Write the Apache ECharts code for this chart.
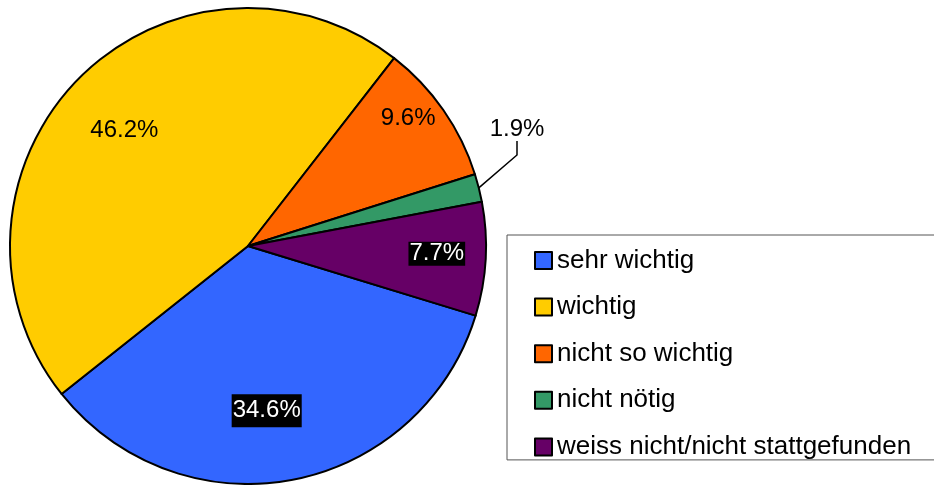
<!DOCTYPE html>
<html>
<head>
<meta charset="utf-8">
<script src="https://cdn.jsdelivr.net/npm/echarts@6/dist/echarts.min.js"></script>
<style>
  html, body { margin: 0; padding: 0; background: #fff; }
  #chart { width: 934px; height: 485px; }
</style>
</head>
<body>
<div id="chart"></div>
<script>
var categories = ['sehr wichtig', 'wichtig', 'nicht so wichtig', 'nicht nötig', 'weiss nicht/nicht stattgefunden'];
var shares = [34.6, 46.2, 9.6, 1.9, 7.7];
var colors = ['#3366FF', '#FFCC00', '#FF6600', '#339966', '#660066'];

// label tweaks per slice (offset from the default inside spot)
var labelOffsets = [[-4, 45], [-37, -30], [60, -58], [0, 0], [67, 1]];
var darkLabel = [true, false, false, false, true];

var FONT = '"Liberation Sans", Arial, Helvetica, sans-serif';

var chart = echarts.init(document.getElementById('chart'));

var data = categories.map(function (name, i) {
  var item = {
    name: name,
    value: shares[i],
    itemStyle: { color: colors[i] },
    label: { offset: labelOffsets[i] }
  };
  if (darkLabel[i]) {
    item.label.color = '#fff';
    item.label.backgroundColor = '#000';
    item.label.padding = i === 0 ? [6, 1, 5, 1] : [1, 1, 1, 1];
  }
  if (i === 3) {
    item.label = {
      position: 'outside',
      color: '#000'
    };
    item.labelLine = {
      show: true,
      length: 28,
      length2: 14,
      lineStyle: { color: '#000', width: 1.5 }
    };
  }
  return item;
});

chart.setOption({
  animation: false,
  legend: {
    orient: 'vertical',
    left: 507,
    top: 235,
    padding: [12.5, 80, 0, 27],
    borderColor: '#555',
    borderWidth: 1,
    itemWidth: 17,
    itemHeight: 17,
    itemGap: 20.6,
    icon: 'rect',
    selectedMode: false,
    itemStyle: { borderColor: '#000', borderWidth: 2 },
    textStyle: { fontFamily: FONT, fontSize: 26, lineHeight: 22, color: '#000' },
    data: categories
  },
  series: [{
    type: 'pie',
    center: [248, 246],
    radius: 238,
    startAngle: -17,
    clockwise: true,
    avoidLabelOverlap: false,
    label: {
      show: true,
      position: 'inside',
      fontFamily: FONT,
      fontSize: 24,
      lineHeight: 22,
      color: '#000',
      formatter: function (p) { return p.value.toFixed(1) + '%'; }
    },
    labelLine: { show: false },
    labelLayout: function (p) {
      if (p.dataIndex === 3) {
        return { x: 517, y: 129, align: 'center', verticalAlign: 'middle' };
      }
    },
    itemStyle: { borderColor: '#000', borderWidth: 2 },
    emphasis: { disabled: true },
    data: data
  }]
});
</script>
</body>
</html>
